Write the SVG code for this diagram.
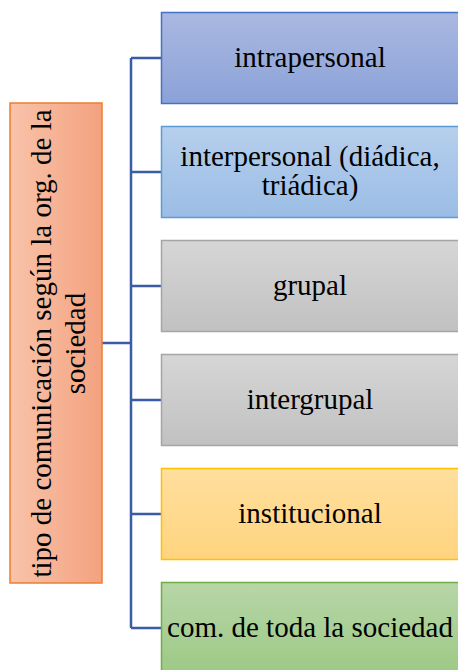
<svg xmlns="http://www.w3.org/2000/svg" width="458" height="670" viewBox="0 0 458 670">
<style>
text{font-family:'Liberation Serif','Times New Roman',serif;font-size:29px;fill:#000;text-anchor:middle}
.box{stroke-width:1.5}
.conn{fill:none;stroke:#3a5ca6;stroke-width:2.5}
</style>
<defs>
<linearGradient id="gOrange" x1="0" y1="0" x2="1" y2="0"><stop offset="0" stop-color="#f8c3aa"/><stop offset="1" stop-color="#f4a27f"/></linearGradient>
<linearGradient id="gBlue1" x1="0" y1="0" x2="0" y2="1"><stop offset="0" stop-color="#aab8e1"/><stop offset="1" stop-color="#8ba2d8"/></linearGradient>
<linearGradient id="gBlue2" x1="0" y1="0" x2="0" y2="1"><stop offset="0" stop-color="#b6cfec"/><stop offset="1" stop-color="#9bbde5"/></linearGradient>
<linearGradient id="gGrey" x1="0" y1="0" x2="0" y2="1"><stop offset="0" stop-color="#d6d6d6"/><stop offset="1" stop-color="#c1c1c1"/></linearGradient>
<linearGradient id="gYellow" x1="0" y1="0" x2="0" y2="1"><stop offset="0" stop-color="#ffdf9e"/><stop offset="1" stop-color="#ffd47f"/></linearGradient>
<linearGradient id="gGreen" x1="0" y1="0" x2="0" y2="1"><stop offset="0" stop-color="#b7d6a7"/><stop offset="1" stop-color="#9dc985"/></linearGradient>
</defs>
<g id="connectors">
<path class="conn" d="M102 343H131M131 58V628M131 58H162M131 172H162M131 286H162M131 400H162M131 514H162M131 628H162"/>
</g>
<g id="root">
<rect class="box" x="10" y="103" width="92" height="480" fill="url(#gOrange)" stroke="#ed7d31"/>
<text transform="translate(51,343.5) rotate(-90)">tipo de comunicación según la org. de la</text>
<text transform="translate(85,343.5) rotate(-90)">sociedad</text>
</g>
<g id="n1">
<rect class="box" x="161.5" y="12.5" width="298" height="91" fill="url(#gBlue1)" stroke="#4472c4"/>
<text x="310" y="67">intrapersonal</text>
</g>
<g id="n2">
<rect class="box" x="161.5" y="126.5" width="298" height="91" fill="url(#gBlue2)" stroke="#5b9bd5"/>
<text x="310" y="166">interpersonal (diádica,</text>
<text x="310" y="195">triádica)</text>
</g>
<g id="n3">
<rect class="box" x="161.5" y="240.5" width="298" height="91" fill="url(#gGrey)" stroke="#a5a5a5"/>
<text x="310" y="295">grupal</text>
</g>
<g id="n4">
<rect class="box" x="161.5" y="354.5" width="298" height="91" fill="url(#gGrey)" stroke="#a5a5a5"/>
<text x="310" y="409">intergrupal</text>
</g>
<g id="n5">
<rect class="box" x="161.5" y="468.5" width="298" height="91" fill="url(#gYellow)" stroke="#ffc000"/>
<text x="310" y="523">institucional</text>
</g>
<g id="n6">
<rect class="box" x="161.5" y="582.5" width="298" height="91" fill="url(#gGreen)" stroke="#70ad47"/>
<text x="310" y="637">com. de toda la sociedad</text>
</g>
</svg>
